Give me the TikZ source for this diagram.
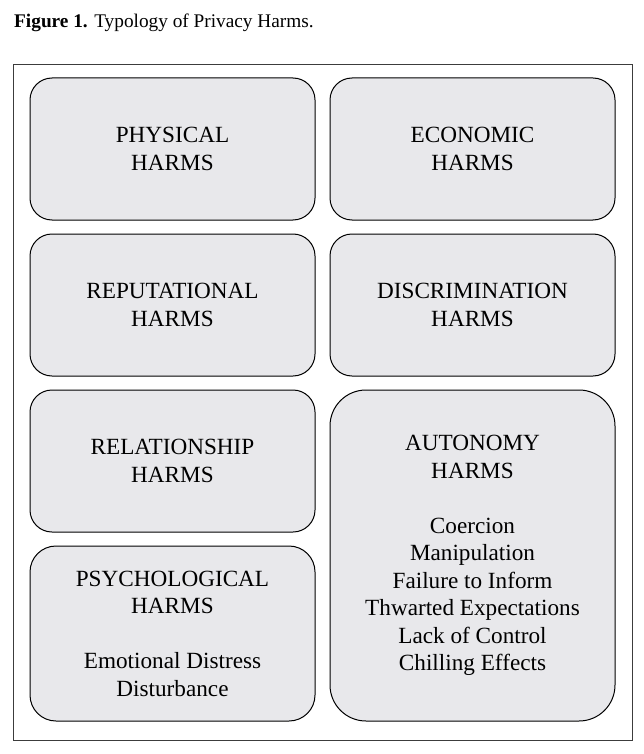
\documentclass[tikz,border=0pt]{standalone}
\usepackage{fontspec}
\setmainfont{Liberation Serif}
\definecolor{boxfill}{RGB}{232,232,235}
\definecolor{framecol}{RGB}{60,60,60}
\begin{document}
\begin{tikzpicture}[x=1pt,y=-1pt,
  harmbox/.style={draw=black,line width=1pt,fill=boxfill,rounded corners=22pt,
    minimum width=285pt,minimum height=142pt,inner sep=0pt,align=center,
    font=\fontsize{23.2}{27.5}\selectfont},
  titletext/.style={anchor=base west,inner sep=0pt,font=\fontsize{19.3}{23}\selectfont}]
\useasboundingbox (0,0) rectangle (644,754);
\node[titletext] (title) at (14,27.5) {\textbf{Figure 1.} Typology of Privacy Harms.};
\draw[framecol,line width=1pt] (13,65) rectangle (632,740);
\node[harmbox] (phys) at (172.5,149) {PHYSICAL\\HARMS};
\node[harmbox] (econ) at (472.5,149) {ECONOMIC\\HARMS};
\node[harmbox] (rep) at (172.5,305) {REPUTATIONAL\\HARMS};
\node[harmbox] (disc) at (472.5,305) {DISCRIMINATION\\HARMS};
\node[harmbox] (rel) at (172.5,461) {RELATIONSHIP\\HARMS};
\node[harmbox,minimum height=175pt,rounded corners=26pt] (psych) at (172.5,633.5)
  {PSYCHOLOGICAL\\HARMS\\[27.5pt]Emotional Distress\\Disturbance};
\node[harmbox,minimum height=331pt,rounded corners=36pt] (auto) at (472.5,555.5)
  {AUTONOMY\\HARMS\\[27.5pt]Coercion\\Manipulation\\Failure to Inform\\Thwarted Expectations\\Lack of Control\\Chilling Effects};
\end{tikzpicture}
\end{document}
